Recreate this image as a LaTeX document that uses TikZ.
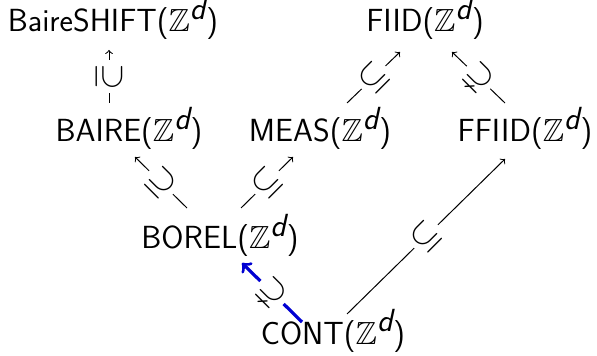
\documentclass[tikz,border=0pt]{standalone}
\usepackage{amssymb}
\usetikzlibrary{calc}
\newcommand{\Zd}{($\mathbb{Z}^{\textit{d}}$)}
\tikzset{
  cls/.style={anchor=base, inner sep=0pt, font=\sffamily\fontsize{16}{18}\selectfont},
  inc/.style={->, line width=0.5pt},
  hard/.style={->, line width=1.6pt, draw={rgb,255:red,0;green,0;blue,210}},
  lbl/.style={fill=white, inner sep=1.5pt, font=\fontsize{17}{19}\selectfont, text=black}
}
\begin{document}
\begin{tikzpicture}[x=0.5pt, y=-0.5pt]
\useasboundingbox (0,0) rectangle (597,356);
\node[cls] (shift) at (113,32) {BaireSHIFT\Zd};
\node[cls] (fiid)  at (425,32) {FIID\Zd};
\node[cls] (baire) at (129,142) {BAIRE\Zd};
\node[cls] (meas)  at (320,142) {MEAS\Zd};
\node[cls] (ffiid) at (525,142) {FFIID\Zd};
\node[cls] (borel) at (220,249) {BOREL\Zd};
\node[cls] (cont)  at (333,344) {CONT\Zd};

\draw[inc] ([shift={(-20,-39)}]baire.base) -- node[lbl, rotate=-90]{$\supseteq$} ([shift={(-4,18)}]shift.base);
\draw[inc] ([shift={(27,-39)}]meas.base) -- node[lbl, rotate=45]{$\subseteq$} ([shift={(-25,20)}]fiid.base);
\draw[inc] ([shift={(-20,-39)}]ffiid.base) -- node[lbl, rotate=-45]{$\supsetneq$} ([shift={(27,20)}]fiid.base);
\draw[inc] ([shift={(-33,-41)}]borel.base) -- node[lbl, rotate=-45]{$\supseteq$} ([shift={(6,15)}]baire.base);
\draw[inc] ([shift={(21,-41)}]borel.base) -- node[lbl, rotate=45]{$\subseteq$} ([shift={(-27,15)}]meas.base);
\draw[inc] ([shift={(14,-30)}]cont.base) -- node[lbl, rotate=45]{$\subseteq$} ([shift={(-20,17)}]ffiid.base);
\draw[hard] ([shift={(-31,-22)}]cont.base) -- node[lbl, rotate=-45]{$\supsetneq$} ([shift={(22,14)}]borel.base);
\end{tikzpicture}
\end{document}
